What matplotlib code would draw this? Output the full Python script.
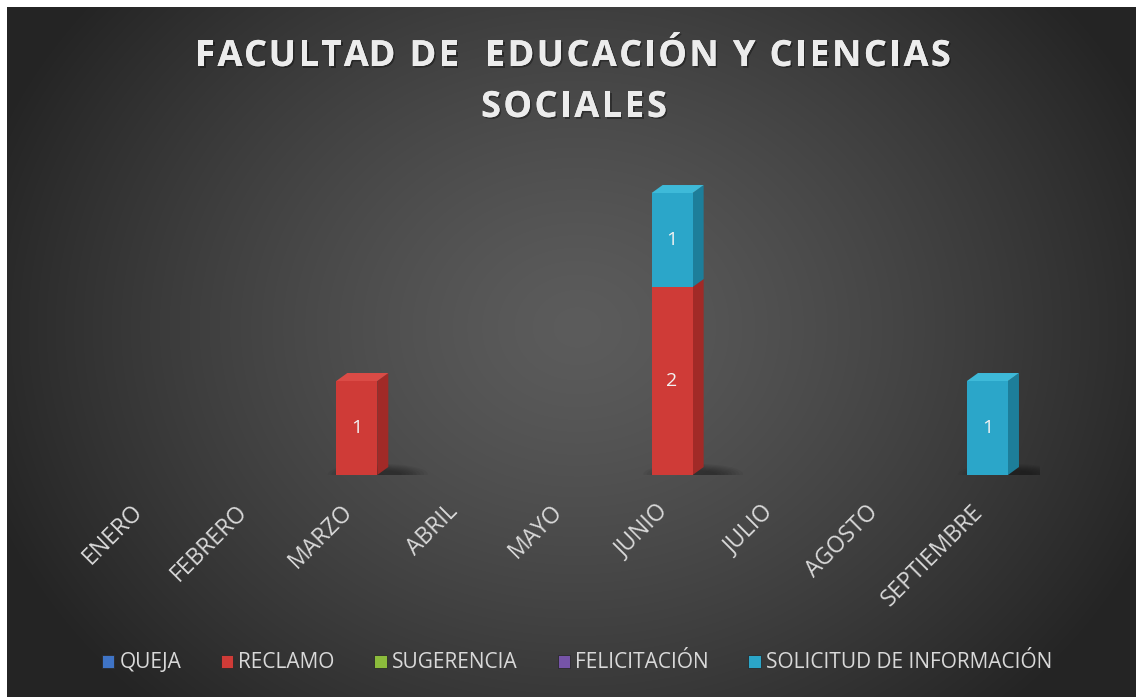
import numpy as np
import matplotlib
matplotlib.use("Agg")
import matplotlib.pyplot as plt
import matplotlib.patheffects as pe
from matplotlib.font_manager import FontProperties
from matplotlib.patches import Polygon, Rectangle, Ellipse, Patch
from matplotlib.transforms import ScaledTranslation

meses = ["ENERO", "FEBRERO", "MARZO", "ABRIL", "MAYO", "JUNIO", "JULIO",
         "AGOSTO", "SEPTIEMBRE"]
queja = [0, 0, 0, 0, 0, 0, 0, 0, 0]
reclamo = [0, 0, 1, 0, 0, 2, 0, 0, 0]
sugerencia = [0, 0, 0, 0, 0, 0, 0, 0, 0]
felicitacion = [0, 0, 0, 0, 0, 0, 0, 0, 0]
solicitud = [0, 0, 0, 0, 0, 1, 0, 0, 1]

series = [
    ("QUEJA", queja, "#3f74c6"),
    ("RECLAMO", reclamo, "#cf3b37"),
    ("SUGERENCIA", sugerencia, "#8cbc3c"),
    ("FELICITACIÓN", felicitacion, "#7654a8"),
    ("SOLICITUD DE INFORMACIÓN", solicitud, "#2ba6c9"),
]
# darker side / lighter top for the 3D look
side_cols = {"#3f74c6": "#2d5596", "#cf3b37": "#a12a27", "#8cbc3c": "#678c2a",
             "#7654a8": "#553c7c", "#2ba6c9": "#1d7e9a"}
top_cols = {"#3f74c6": "#5689d6", "#cf3b37": "#db4b46", "#8cbc3c": "#a0cc52",
            "#7654a8": "#8a6abb", "#2ba6c9": "#3ebad9"}

FONT = ["Open Sans", "DejaVu Sans"]
plt.rcParams["font.family"] = FONT

W, H = 1136, 697
fig = plt.figure(figsize=(W / 100, H / 100), dpi=100)
fig.patch.set_facecolor("white")

# ── radial gradient background ──
bg = fig.add_axes([7 / W, 0, 1 - 7 / W, 1 - 7 / H])
yy, xx = np.mgrid[0:690, 0:1129]
r = np.sqrt(((xx - 570) / 620) ** 2 + ((yy - 320) / 520) ** 2)
v = 0.36 - (0.36 - 0.145) * np.clip(r, 0, 1) ** 1.3
bg.imshow(np.dstack([v, v, v]), aspect="auto", interpolation="bilinear")
bg.axis("off")

# ── bars ──
left, right = 94 / W, 1040 / W
bottom = 1 - 475 / H
ymax = 3.5
ax = fig.add_axes([left, bottom, right - left, ymax * 94 / H])
ax.set_xlim(-0.5, len(meses) - 0.5)
ax.set_ylim(0, ymax)
ax.patch.set_alpha(0)
for s in ax.spines.values():
    s.set_visible(False)
ax.set_yticks([])

bw = 0.39
dx, dy = 0.105, 0.085
x = np.arange(len(meses))
base = np.zeros(len(meses))
tops = np.zeros(len(meses))
for _, vals, _c in series:
    tops += np.array(vals)

for i in x:
    if tops[i] > 0:
        # soft shadow on the floor, fading outwards
        for k in range(8):
            ax.add_patch(Ellipse((i + 0.2, 0.01), 0.95 - 0.07 * k,
                                 0.22 - 0.02 * k, color="black", alpha=0.05,
                                 lw=0, zorder=1))

for name, vals, col in series:
    for i, val in enumerate(vals):
        if val <= 0:
            continue
        x0, x1 = i - bw / 2, i + bw / 2
        y0, y1 = base[i], base[i] + val
        ax.add_patch(Polygon([(x1, y0), (x1 + dx, y0 + dy), (x1 + dx, y1 + dy),
                              (x1, y1)], closed=True, fc=side_cols[col],
                             lw=0, zorder=2))
        ax.add_patch(Rectangle((x0, y0), bw, val, fc=col, lw=0, zorder=3))
        if y1 >= tops[i]:
            ax.add_patch(Polygon([(x0, y1), (x1, y1), (x1 + dx, y1 + dy),
                                  (x0 + dx, y1 + dy)], closed=True,
                                 fc=top_cols[col], lw=0, zorder=3))
        ax.text(i, (y0 + y1) / 2, f"{val}", ha="center", va="center",
                color="#f2f2f2", fontsize=14, zorder=4)
        base[i] += val

ax.set_xticks(x)
ax.set_xticklabels(meses, rotation=45, ha="right", rotation_mode="anchor",
                   color="#d9d9d9", fontsize=16.5)
ax.tick_params(axis="x", length=0, pad=18)
shift = ScaledTranslation(-16 / 100, 0, fig.dpi_scale_trans)
for lab in ax.get_xticklabels():
    lab.set_transform(lab.get_transform() + shift)

# ── title, with letter spacing ──
renderer = fig.canvas.get_renderer()
tfont = FontProperties(family=FONT, weight="bold", size=26)
shadow = [pe.withSimplePatchShadow(offset=(1.2, -1.2), shadow_rgbFace="black",
                                   alpha=0.35), pe.Normal()]


def spaced_title(txt, xc, yc, spacing=2.4):
    widths = [renderer.get_text_width_height_descent(txt[:k], tfont, False)[0]
              if k else 0 for k in range(len(txt) + 1)]
    total = widths[-1] + spacing * (len(txt) - 1)
    x0 = xc - total / 2
    for k, ch in enumerate(txt):
        fig.text((x0 + widths[k] + spacing * k) / W, 1 - yc / H, ch,
                 ha="left", va="center", fontproperties=tfont,
                 color="#ececec", path_effects=shadow)


spaced_title("FACULTAD DE  EDUCACIÓN Y CIENCIAS", 573, 57)
spaced_title("SOCIALES", 574, 108)

# ── legend ──
handles = [Patch(fc=c, ec="#2a2a2a", lw=0.6) for _, _, c in series]
leg = fig.legend(handles, [n for n, _, _ in series], loc="center",
                 bbox_to_anchor=(577 / W, 1 - 663 / H), ncol=5, frameon=False,
                 fontsize=15, handlelength=0.6, handleheight=0.6,
                 handletextpad=0.25, columnspacing=1.9)
for t in leg.get_texts():
    t.set_color("#d9d9d9")

fig.savefig("out.png", dpi=100)
